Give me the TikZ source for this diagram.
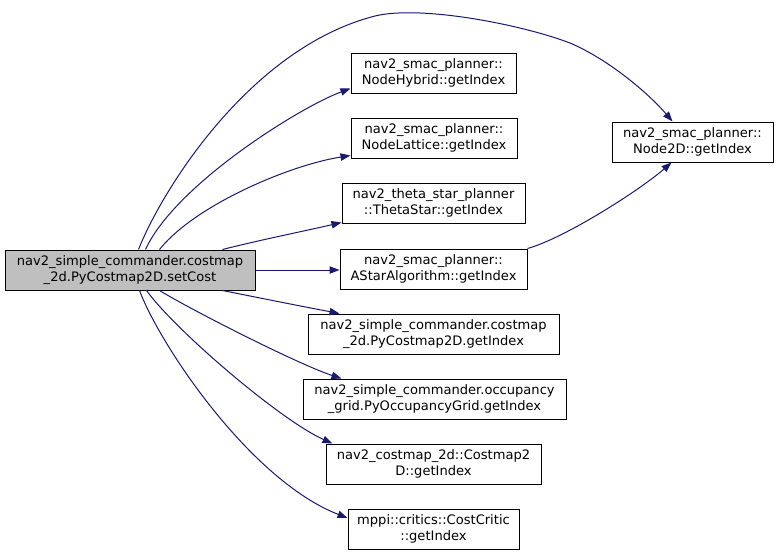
\documentclass[tikz,border=0pt]{standalone}
\usepackage{fontspec}
\setmainfont{DejaVu Sans}
\usetikzlibrary{arrows.meta,calc}
\definecolor{edgeblue}{HTML}{191970}
\definecolor{mainfill}{HTML}{BFBFBF}
\tikzset{
  fn/.style={draw=black, line width=0.75pt, fill=white, inner sep=0pt, align=center,
    minimum height=30pt, font=\fontsize{9.8}{12.2}\selectfont},
  mainbox/.style={fn, fill=mainfill},
  edge/.style={draw=edgeblue, line width=0.75pt, -{Triangle[length=7.5pt,width=5.5pt]}, fill=none},
}
\begin{document}
\begin{tikzpicture}[x=0.75pt,y=-0.75pt]
\useasboundingbox (0,0) rectangle (779,557);
\node[mainbox, minimum width=187.5pt] (main) at (130,270) {nav2\_simple\_commander.costmap\\\_2d.PyCostmap2D.setCost};
\node[fn, minimum width=123.75pt] (hybrid) at (433.5,73) {nav2\_smac\_planner::\\NodeHybrid::getIndex};
\node[fn, minimum width=124.5pt] (lattice) at (434,138) {nav2\_smac\_planner::\\NodeLattice::getIndex};
\node[fn, minimum width=137.25pt] (theta) at (433.5,203) {nav2\_theta\_star\_planner\\::ThetaStar::getIndex};
\node[fn, minimum width=140.25pt] (astar) at (433.5,269) {nav2\_smac\_planner::\\AStarAlgorithm::getIndex};
\node[fn, minimum width=188.25pt] (pyget) at (433.5,334) {nav2\_simple\_commander.costmap\\\_2d.PyCostmap2D.getIndex};
\node[fn, minimum width=197.25pt] (occ) at (434.5,399) {nav2\_simple\_commander.occupancy\\\_grid.PyOccupancyGrid.getIndex};
\node[fn, minimum width=161.25pt] (cm2d) at (433.5,464) {nav2\_costmap\_2d::Costmap2\\D::getIndex};
\node[fn, minimum width=128.25pt] (crit) at (433.5,529) {mppi::critics::CostCritic\\::getIndex};
\node[fn, minimum width=120.75pt] (node2d) at (692.5,142) {nav2\_smac\_planner::\\Node2D::getIndex};

\draw[edge] ($(main.north west)+(134,0)$) .. controls (162,190) and (250,48) .. (375,16)
  .. controls (420,5) and (520,24) .. (570,43)
  .. controls (610,60) and (650,95) .. ($(node2d.north west)+(61,0)$);
\draw[edge] ($(main.north west)+(141,0)$) .. controls (175,185) and (300,107) .. ($(hybrid.south west)+(0,-5)$);
\draw[edge] ($(main.north west)+(155,0)$) .. controls (195,205) and (290,165) .. ($(lattice.south west)+(0,-3)$);
\draw[edge] ($(main.north west)+(218,0)$) .. controls (260,240) and (300,232) .. ($(theta.south west)+(0,-1)$);
\draw[edge] (main.east) -- (astar.west |- main.east);
\draw[edge] ($(main.south west)+(218,0)$) .. controls (260,298) and (300,306) .. ($(pyget.north west)+(32,0)$);
\draw[edge] ($(main.south west)+(155,0)$) .. controls (195,312) and (300,365) .. ($(occ.north west)+(39,0)$);
\draw[edge] ($(main.south west)+(142,0)$) .. controls (175,330) and (280,420) .. ($(cm2d.north west)+(7,0)$);
\draw[edge] ($(main.south west)+(135,0)$) .. controls (160,345) and (250,480) .. ($(crit.west)+(0,-11)$);
\draw[edge] (astar.north east) .. controls (565,238) and (640,190) .. ($(node2d.south west)+(60,0)$);
\end{tikzpicture}
\end{document}
